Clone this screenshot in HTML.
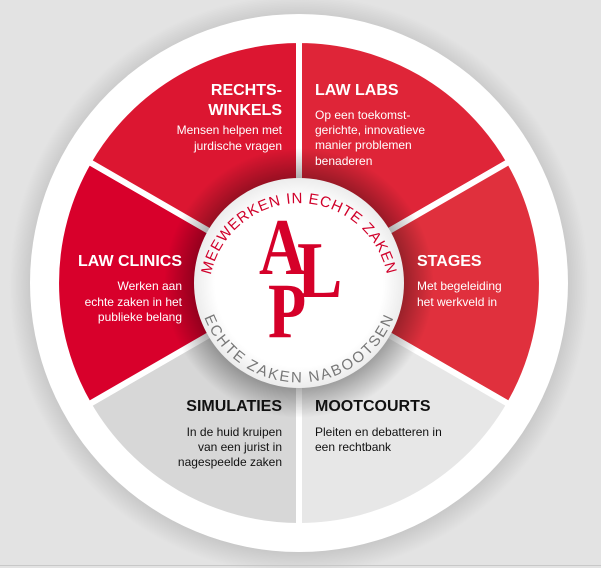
<!DOCTYPE html>
<html><head><meta charset="utf-8"><style>
html,body{margin:0;padding:0;}
body{width:601px;height:568px;overflow:hidden;background:#e2e2e2;}
svg{display:block;}
.t{font-family:"Liberation Sans",sans-serif;font-weight:bold;font-size:16px;fill:#fff;}
.b{font-family:"Liberation Sans",sans-serif;font-size:12px;fill:#fff;}
.dk{fill:#111;}
</style></head><body>
<svg width="601" height="568" viewBox="0 0 601 568" xmlns="http://www.w3.org/2000/svg">
<defs>
<radialGradient id="sh" cx="299" cy="283" r="135" gradientUnits="userSpaceOnUse">
<stop offset="0.75" stop-color="#000" stop-opacity="0.35"/><stop offset="1" stop-color="#000" stop-opacity="0"/>
</radialGradient>
<radialGradient id="os" cx="299" cy="285" r="290" gradientUnits="userSpaceOnUse">
<stop offset="0.9" stop-color="#000" stop-opacity="0.15"/><stop offset="1" stop-color="#000" stop-opacity="0"/>
</radialGradient>
<radialGradient id="cf" cx="299" cy="283" r="105" gradientUnits="userSpaceOnUse">
<stop offset="0.8" stop-color="#ffffff"/><stop offset="1" stop-color="#ececec"/>
</radialGradient>
<path id="arcTop" d="M 211 312 A 90 90 0 1 1 387 312"/>
<path id="arcBot" d="M 210 300 A 91 91 0 0 0 388 300"/>
</defs>
<rect width="601" height="568" fill="#e3e3e3"/>
<circle cx="299" cy="285" r="290" fill="url(#os)"/>
<circle cx="299" cy="283" r="269" fill="#ffffff"/>
<g stroke="#fff" stroke-width="6" stroke-linejoin="miter">
<path d="M299 283 L299 40 A243 243 0 0 1 509.4 161.5 Z" fill="#df2538"/>
<path d="M299 283 L509.4 161.5 A243 243 0 0 1 509.4 404.5 Z" fill="#e0303d"/>
<path d="M299 283 L509.4 404.5 A243 243 0 0 1 299 526 Z" fill="#e7e7e7"/>
<path d="M299 283 L299 526 A243 243 0 0 1 88.6 404.5 Z" fill="#d7d7d7"/>
<path d="M299 283 L88.6 404.5 A243 243 0 0 1 88.6 161.5 Z" fill="#d8002b"/>
<path d="M299 283 L88.6 161.5 A243 243 0 0 1 299 40 Z" fill="#dc1631"/>
</g>
<circle cx="299" cy="283" r="135" fill="url(#sh)"/>
<circle cx="299" cy="283" r="105" fill="url(#cf)"/>
<text font-family="Liberation Sans,sans-serif" font-size="15" fill="#d0002a" letter-spacing="0.8"><textPath href="#arcTop" startOffset="50%" text-anchor="middle">MEEWERKEN IN ECHTE ZAKEN</textPath></text>
<text font-family="Liberation Sans,sans-serif" font-size="15" fill="#777" letter-spacing="0.8"><textPath href="#arcBot" startOffset="50%" text-anchor="middle" dominant-baseline="hanging">ECHTE ZAKEN NABOOTSEN</textPath></text>
<g font-family="Liberation Serif,serif" fill="#d50029" font-weight="bold">
<text transform="translate(259 274) scale(0.8 1)" font-size="80">A</text>
<text transform="translate(297 297) scale(0.85 1)" font-size="80">L</text>
<text transform="translate(268 337) scale(0.8 1)" font-size="78">P</text>
</g>
<text class="t" x="282" y="95" text-anchor="end">RECHTS-</text>
<text class="t" x="282" y="115" text-anchor="end">WINKELS</text>
<text class="b" x="282" y="134" text-anchor="end">Mensen helpen met</text>
<text class="b" x="282" y="150" text-anchor="end">jurdische vragen</text>
<text class="t" x="315" y="95">LAW LABS</text>
<text class="b" x="315" y="119">Op een toekomst-</text>
<text class="b" x="315" y="134">gerichte, innovatieve</text>
<text class="b" x="315" y="149">manier problemen</text>
<text class="b" x="315" y="165">benaderen</text>
<text class="t" x="182" y="266" text-anchor="end">LAW CLINICS</text>
<text class="b" x="182" y="290" text-anchor="end">Werken aan</text>
<text class="b" x="182" y="306" text-anchor="end">echte zaken in het</text>
<text class="b" x="182" y="321" text-anchor="end">publieke belang</text>
<text class="t" x="417" y="266">STAGES</text>
<text class="b" x="417" y="290">Met begeleiding</text>
<text class="b" x="417" y="306">het werkveld in</text>
<text class="t dk" x="282" y="411" text-anchor="end">SIMULATIES</text>
<text class="b dk" x="282" y="436" text-anchor="end">In de huid kruipen</text>
<text class="b dk" x="282" y="451" text-anchor="end">van een jurist in</text>
<text class="b dk" x="282" y="466" text-anchor="end">nagespeelde zaken</text>
<text class="t dk" x="315" y="411">MOOTCOURTS</text>
<text class="b dk" x="315" y="436">Pleiten en debatteren in</text>
<text class="b dk" x="315" y="451">een rechtbank</text>
<rect x="0" y="565" width="601" height="1" fill="#c8c8c8"/>
</svg>
</body></html>
